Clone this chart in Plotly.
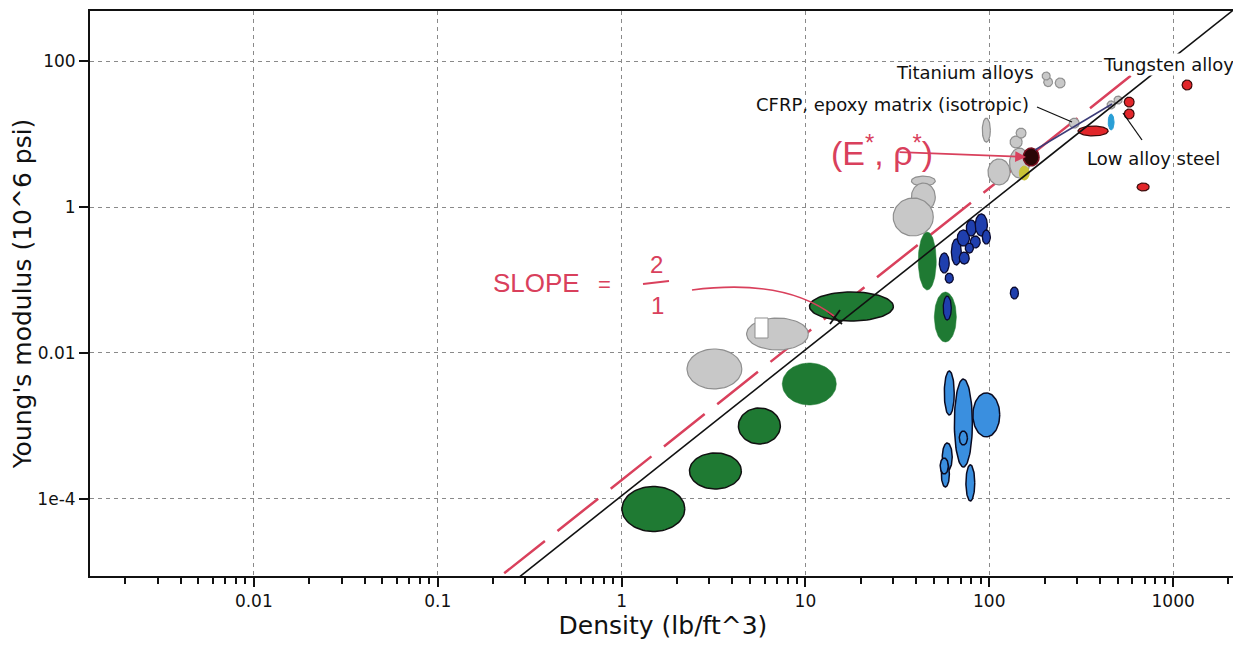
import numpy as np
import plotly.graph_objects as go

# ---------------- data (density lb/ft^3, modulus 10^6 psi, log half-spreads in decades) -------------
green_rho = [1.49, 3.24, 5.62, 10.5, 17.8, 46.0, 57.7]
green_E = [7.3e-5, 2.42e-4, 1.0e-3, 3.76e-3, 0.0434, 0.182, 0.0311]
green_sx = [0.171, 0.141, 0.114, 0.147, 0.228, 0.049, 0.060]
green_sy = [0.308, 0.247, 0.247, 0.288, 0.199, 0.397, 0.342]

gray_rho = [3.20, 7.05, 43.8, 43.8, 38.6, 96.4, 113, 146, 140, 149, 209, 243, 204, 290, 460, 502]
gray_E = [6.04e-3, 0.0182, 2.27, 1.37, 0.730, 11.3, 3.02, 4.0, 7.77, 10.3, 51.5, 50.0, 62.3, 14.1, 25.0, 29.2]
gray_sx = [0.149, 0.168, 0.065, 0.065, 0.109, 0.022, 0.060, 0.054, 0.033, 0.027, 0.024, 0.027, 0.022, 0.027, 0.022, 0.022]
gray_sy = [0.274, 0.219, 0.068, 0.192, 0.260, 0.164, 0.178, 0.205, 0.082, 0.068, 0.062, 0.068, 0.055, 0.068, 0.055, 0.055]

navy_rho = [66.2, 72.3, 79.8, 90.5, 83.9, 73.1, 77.9, 96.4, 56.9, 60.6, 137, 59.1]
navy_E = [0.242, 0.376, 0.516, 0.567, 0.332, 0.200, 0.274, 0.388, 0.171, 0.106, 0.0664, 0.0413]
navy_sx = [0.027, 0.033, 0.027, 0.033, 0.027, 0.027, 0.022, 0.022, 0.027, 0.022, 0.022, 0.022]
navy_sy = [0.178, 0.110, 0.110, 0.151, 0.082, 0.082, 0.068, 0.096, 0.137, 0.068, 0.082, 0.164]

lblue_rho = [60.6, 72.3, 96.4, 72.3, 59.1, 57.7, 56.9, 78.9]
lblue_E = [2.83e-3, 1.10e-3, 1.42e-3, 6.85e-4, 3.76e-4, 2.20e-4, 2.83e-4, 1.66e-4]
lblue_sx = [0.027, 0.049, 0.073, 0.022, 0.027, 0.022, 0.022, 0.024]
lblue_sy = [0.301, 0.603, 0.301, 0.096, 0.192, 0.178, 0.110, 0.247]

red_rho = [367, 577, 577, 687, 1191]
red_E = [11.0, 27.4, 18.8, 1.88, 46.9]
red_sx = [0.082, 0.027, 0.027, 0.033, 0.027]
red_sy = [0.068, 0.068, 0.068, 0.055, 0.068]

cfrp_rho, cfrp_E = [169], [4.84]          # (E*, rho*) point
yellow_rho, yellow_E = [155], [2.92]
cyan_rho, cyan_E = [460], [14.6]

# guide lines E = C * rho^2 (end points)
black_rho = [0.25, 2300]
black_E = [6.9e-6, 584]
red_guide_rho = [0.23, 820]
red_guide_E = [9.6e-6, 121.7]

x_tickvals = [0.01, 0.1, 1, 10, 100, 1000]
x_ticktext = ["0.01", "0.1", "1", "10", "100", "1000"]
y_tickvals = [1e-4, 0.01, 1, 100]
y_ticktext = ["1e-4", "0.01", "1", "100"]

FONT = "DejaVu Sans"
fig = go.Figure()

t = np.linspace(0, 2 * np.pi, 80)


def add_ellipses(rho, E, sx, sy, fill, line_color, line_width, outline=None):
    for i, (r, e, a, b) in enumerate(zip(rho, E, sx, sy)):
        lx, ly = np.log10(r), np.log10(e)
        xs = 10 ** (lx + a * np.cos(t))
        ys = 10 ** (ly + b * np.sin(t))
        has_line = True if outline is None else outline[i]
        fig.add_trace(go.Scatter(
            x=xs, y=ys, mode="lines", fill="toself", fillcolor=fill,
            line=dict(color=line_color if has_line else fill,
                      width=line_width if has_line else 0.5),
            hoverinfo="skip", showlegend=False))


fig.add_trace(go.Scatter(x=red_guide_rho, y=red_guide_E, mode="lines",
                         line=dict(color="#d9405c", width=2.5, dash="52px,16px"),
                         hoverinfo="skip", showlegend=False))

add_ellipses(gray_rho, gray_E, gray_sx, gray_sy, "#c8c8c8", "#8f8f8f", 1.2)
add_ellipses(green_rho, green_E, green_sx, green_sy, "#1f7a33", "#111111", 1.5,
             outline=[True, True, True, False, True, False, False])
add_ellipses(navy_rho, navy_E, navy_sx, navy_sy, "#1f3fae", "#0a0a30", 1.3)
add_ellipses(lblue_rho, lblue_E, lblue_sx, lblue_sy, "#3a8fdf", "#0a0a20", 1.5)
add_ellipses(red_rho, red_E, red_sx, red_sy, "#e2262a", "#3a0a0a", 1.2)
add_ellipses(yellow_rho, yellow_E, [0.027], [0.096], "#c9c234", "#c9c234", 1)
add_ellipses(cyan_rho, cyan_E, [0.016], [0.110], "#2a9fd6", "#2a9fd6", 1)
add_ellipses(cfrp_rho, cfrp_E, [0.043], [0.123], "#2a0606", "#7a1020", 1.5)

fig.add_trace(go.Scatter(x=black_rho, y=black_E, mode="lines",
                         line=dict(color="#111111", width=1.6),
                         hoverinfo="skip", showlegend=False))


# window-pixel -> paper (plot area spans x 90..1236, y 11..576 in the window)
def px(x):
    return (x - 90) / 1146


def py(y):
    return (576 - y) / 565


shapes = []
shapes.append(dict(type="rect", xref="paper", yref="paper", x0=px(755), x1=px(768), y0=py(338), y1=py(318),
                   fillcolor="white", line=dict(color="#8f8f8f", width=1)))
for (a, b, c, d, col, w) in [(1037, 107, 1072, 122, "#111111", 1.3),
                             (1142, 140, 1123, 113, "#111111", 1.3),
                             (1035, 150, 1112, 104, "#3c3c78", 1.5),
                             (828, 312, 842, 324, "#111111", 1.8),
                             (830, 324, 840, 310, "#111111", 1.8),
                             (643, 284, 669, 281, "#d9405c", 2)]:
    shapes.append(dict(type="line", xref="paper", yref="paper", x0=px(a), y0=py(b), x1=px(c), y1=py(d),
                       line=dict(color=col, width=w)))
shapes.append(dict(type="path", xref="paper", yref="paper",
                   path=f"M {px(692)},{py(290)} Q {px(785)},{py(278)} {px(834)},{py(316)}",
                   line=dict(color="#d9405c", width=1.6)))
fig.update_layout(shapes=shapes)

ann = []


def text(s, x, y, size, color="#111111", xanchor="center", bg=None, family=FONT):
    d = dict(text=s, x=px(x), y=py(y), xref="paper", yref="paper", showarrow=False,
             font=dict(family=family, size=size, color=color), xanchor=xanchor, yanchor="middle")
    if bg:
        d["bgcolor"] = bg
        d["borderpad"] = 0
    ann.append(d)


text("Titanium alloys", 965, 73, 18)
text("CFRP, epoxy matrix (isotropic)", 892, 105, 18)
text("Tungsten alloy", 1235, 65, 18, xanchor="right", bg="white")
text("Low alloy steel", 1153, 158, 18)

RED = "#d9405c"
text("SLOPE", 536, 283, 26, color=RED, family="Liberation Sans")
text("=", 604, 284, 22, color=RED, family="Liberation Sans")
text("2", 656, 264, 24, color=RED, family="Liberation Sans")
text("1", 657, 305, 24, color=RED, family="Liberation Sans")
text("(E<sup>*</sup>, ρ<sup>*</sup>)", 882, 150, 34, color=RED, family="Liberation Sans")
ann.append(dict(text="", x=px(1026), y=py(157), xref="paper", yref="paper", showarrow=True,
                ax=-128, ay=-5, arrowcolor=RED, arrowwidth=1.8, arrowhead=2, arrowsize=1.2))
fig.update_layout(annotations=ann)

minor_x = [m * 10.0 ** k for k in range(-3, 4) for m in range(2, 10)]

# the page body has an 8px margin, so the figure is 8px smaller and margins shifted accordingly
fig.update_layout(
    width=1233, height=637,
    margin=dict(l=82, r=5, t=3, b=69, autoexpand=False),
    plot_bgcolor="white", paper_bgcolor="white",
    showlegend=False,
    font=dict(family=FONT, color="#111111"),
    xaxis=dict(type="log", range=[-2.891, 3.342], automargin=False,
               showline=True, linecolor="#111111", linewidth=2, mirror=True,
               ticks="outside", ticklen=9, tickwidth=1.5, tickcolor="#111111",
               tickvals=x_tickvals, ticktext=x_ticktext,
               tickfont=dict(family=FONT, size=17),
               showgrid=True, gridcolor="#8a8a8a", gridwidth=1.4, griddash="4px,4px",
               zeroline=False,
               minor=dict(ticks="outside", ticklen=6, tickwidth=1.5, tickcolor="#111111",
                          tickvals=minor_x, showgrid=False),
               title=dict(text="Density (lb/ft^3)", font=dict(family=FONT, size=25), standoff=4)),
    yaxis=dict(type="log", range=[-5.055, 2.685], automargin=False,
               showline=True, linecolor="#111111", linewidth=2, mirror=True,
               ticks="outside", ticklen=9, tickwidth=1.5, tickcolor="#111111",
               tickvals=y_tickvals, ticktext=y_ticktext,
               tickfont=dict(family=FONT, size=17),
               showgrid=True, gridcolor="#8a8a8a", gridwidth=1.4, griddash="4px,4px",
               zeroline=False,
               title=dict(text="Young's modulus (10^6 psi)", font=dict(family=FONT, size=25), standoff=0)),
)

fig.write_html("out.html")
